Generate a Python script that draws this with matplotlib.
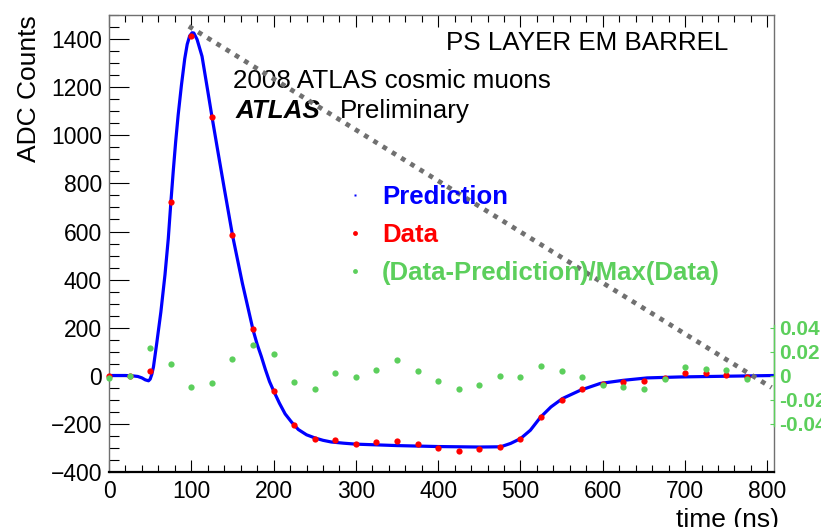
import numpy as np
import matplotlib
matplotlib.use('Agg')
import matplotlib.pyplot as plt
from matplotlib.lines import Line2D
from matplotlib.ticker import MultipleLocator

plt.rcParams['font.family'] = ['Liberation Sans', 'DejaVu Sans']

# prediction
pred_t = [0, 10, 20, 30, 35, 40, 44, 48, 50, 52, 54, 58, 63, 68, 72, 75, 78, 81, 84, 88,
          92, 95, 98, 101, 103, 107, 113, 120, 125, 132, 140, 150, 162, 175, 180, 185,
          190, 195, 200, 207, 214, 222, 230, 240, 250, 260, 270, 285, 300, 350, 400, 450,
          476, 488, 500, 512, 524, 537, 551, 573, 597, 625, 654, 694, 750, 808]
pred_v = [0, 0, 0, -2, -4, -10, -18, -22, -15, 5, 36, 135, 265, 420, 570, 715, 850, 975, 1085, 1210,
          1320, 1380, 1415, 1428, 1427, 1400, 1330, 1185, 1080, 939, 780, 585, 385, 190, 130, 80,
          25, -25, -64, -115, -160, -195, -225, -247, -260, -270, -277, -282, -286, -292, -296, -298,
          -297, -283, -263, -228, -175, -131, -96, -61, -33, -20, -10, -6, -3, 0]

# data samples every 25 ns
data_t = list(range(0, 800, 25))
data_v = [-2, 0, 18, 721, 1414, 1075, 585, 193, -64, -206, -264, -270, -284, -277, -272, -284,
          -300, -313, -308, -296, -264, -174, -100, -58, -36, -27, -21, -11, 11, 11, 1, -6]
resid = [-0.002, 0.0, 0.023, 0.010, -0.0095, -0.006, 0.014, 0.0255, 0.018, -0.0056, -0.011,
         0.002, -0.0014, 0.005, 0.0128, 0.0036, -0.0045, -0.011, -0.0078, -0.0006, -0.0014,
         0.0083, 0.0036, -0.0014, -0.0075, -0.0098, -0.011, -0.003, 0.0072, 0.0058, 0.0044, -0.0033]

resid_ticks = [-0.04, -0.02, 0, 0.02, 0.04]
resid_labels = ['-0.04', '-0.02', '0', '0.02', '0.04']

green = '#5ccf5c'

fig = plt.figure(figsize=(8.21, 5.27), dpi=100)
ax = fig.add_axes([0.1328, 0.1053, 0.8099, 0.8653])

ax.plot(pred_t, pred_v, color='blue', lw=2.3, solid_capstyle='round', zorder=2)
ax.plot(data_t, data_v, 'o', color='red', ms=4.5, mec='none', zorder=3, clip_on=False)

# diagonal dotted line
ax.plot([97, 805], [1455, -50], color='#707070', lw=3.4, linestyle=(0, (1, 1.3)),
        clip_on=False, zorder=4)

ax.set_xlim(0, 808)
ax.set_ylim(-400, 1500)
ax.xaxis.set_major_locator(MultipleLocator(100))
ax.xaxis.set_minor_locator(MultipleLocator(20))
ax.yaxis.set_major_locator(MultipleLocator(200))
ax.yaxis.set_minor_locator(MultipleLocator(50))
ax.tick_params(axis='both', which='both', direction='in', top=True, right=True, width=0.8)
ax.tick_params(axis='y', which='major', length=14.4, labelsize=16.5, pad=5)
ax.tick_params(axis='y', which='minor', length=7.2)
ax.tick_params(axis='x', which='major', length=8.6, labelsize=16.5, pad=6)
ax.tick_params(axis='x', which='minor', length=4.7)
for s in ['left', 'right', 'top']:
    ax.spines[s].set_color('#707070')
    ax.spines[s].set_linewidth(1.0)
ax.spines['bottom'].set_linewidth(1.6)

ax.set_ylabel('ADC Counts', fontsize=19, loc='top')
ax.yaxis.set_label_coords(-0.103, 1.0)
ax.set_xlabel('time (ns)', fontsize=19, loc='right')
ax.xaxis.set_label_coords(1.008, -0.08)

ax.text(0.931, 0.924, 'PS LAYER EM BARREL', transform=ax.transAxes, fontsize=18.7,
        ha='right', va='baseline')
ax.text(0.1865, 0.841, '2008 ATLAS cosmic muons', transform=ax.transAxes, fontsize=18.7,
        ha='left', va='baseline')
ax.text(0.1895, 0.775, 'ATLAS', transform=ax.transAxes, fontsize=18.7, fontweight='bold',
        fontstyle='italic', ha='left', va='baseline')
ax.text(0.347, 0.775, 'Preliminary', transform=ax.transAxes, fontsize=18.7,
        ha='left', va='baseline')

# residual axis on the right
ax2 = ax.twinx()
ax2.set_ylim(-400 / 5000, 1500 / 5000)
ax2.plot(data_t, resid, 'o', color=green, ms=4.5, mec='none', clip_on=False, zorder=5)
for s in ['left', 'top', 'bottom']:
    ax2.spines[s].set_visible(False)
ax2.spines['right'].set_color(green)
ax2.spines['right'].set_linewidth(1.0)
ax2.spines['right'].set_bounds(-0.042, 0.042)
ax2.set_yticks(resid_ticks)
ax2.set_yticklabels(resid_labels)
ax2.tick_params(axis='y', direction='in', length=3, color=green, labelcolor=green,
                labelsize=15, pad=3.5)
for lab in ax2.get_yticklabels():
    lab.set_fontweight('bold')

handles = [
    Line2D([], [], marker='s', color='blue', ls='none', ms=1.6, mec='none'),
    Line2D([], [], marker='o', color='red', ls='none', ms=3.5, mec='none'),
    Line2D([], [], marker='o', color=green, ls='none', ms=3.5, mec='none'),
]
labels = ['Prediction', 'Data', '(Data-Prediction)/Max(Data)']
leg = ax2.legend(handles, labels, loc='upper left', bbox_to_anchor=(0.358, 0.629),
                 frameon=False, prop={'size': 18.5, 'weight': 'bold'}, handlelength=0.6,
                 handletextpad=0.75, labelspacing=0.56, borderpad=0, borderaxespad=0)
for txt, c in zip(leg.get_texts(), ['blue', 'red', green]):
    txt.set_color(c)

fig.savefig('out.png', dpi=100)
